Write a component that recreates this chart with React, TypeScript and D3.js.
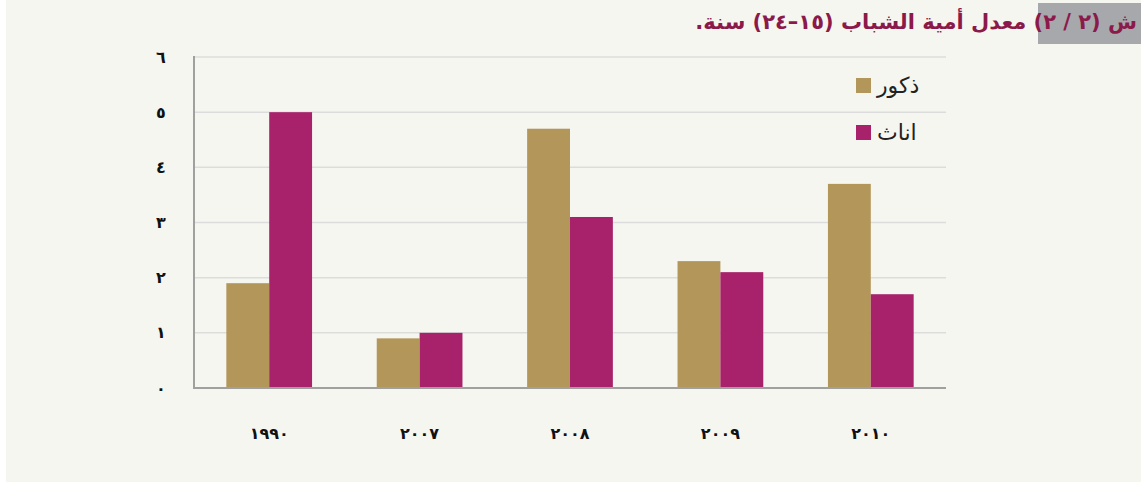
import React from "react";
import * as d3 from "d3";

const years = ["١٩٩٠", "٢٠٠٧", "٢٠٠٨", "٢٠٠٩", "٢٠١٠"];
const males = [1.9, 0.9, 4.7, 2.3, 3.7];
const females = [5.0, 1.0, 3.1, 2.1, 1.7];
const yTicks = [0, 1, 2, 3, 4, 5, 6];
const yTickLabels = ["٠", "١", "٢", "٣", "٤", "٥", "٦"];
const seriesNames = ["ذكور", "اناث"];
const seriesColors = ["#b3975a", "#a8226b"];
const title = "ش (٢ / ٢) معدل أمية الشباب (١٥–٢٤) سنة.";

export default function App() {
  const W = 1141, H = 482;
  const left = 194, right = 946, top = 57, bottom = 388;
  const x = d3.scaleBand<string>().domain(years).range([left, right]).paddingInner(0.43).paddingOuter(0.215);
  const x1 = d3.scaleBand<number>().domain([0, 1]).range([0, x.bandwidth()]);
  const y = d3.scaleLinear().domain([0, 6]).range([bottom, top]);
  const series = [males, females];
  const font = "'DejaVu Sans', sans-serif";
  return (
    <svg width={W} height={H} style={{ position: "absolute", left: 0, top: 0 }} fontFamily={font}>
      <rect x={6} y={0} width={W - 6} height={H} fill="#f6f6f1" />
      <rect x={1038} y={3} width={W - 1038} height={41} fill="#a7a8ab" />
      <text x={1137} y={29} textAnchor="start" direction="rtl" style={{ direction: "rtl", unicodeBidi: "embed" }} fontSize={21} fontWeight="bold" fill="#8b1a4b">{title}</text>
      {yTicks.filter(t => t > 0).map(t => (
        <line key={t} x1={left} x2={right} y1={y(t)} y2={y(t)} stroke="#dcdcdc" strokeWidth={1.5} />
      ))}
      {yTicks.map((t, i) => (
        <text key={t} x={161} y={y(t)} dy="0.35em" textAnchor="middle" fontSize={16} fontWeight="bold" fill="#111">{yTickLabels[i]}</text>
      ))}
      {years.map((yr, i) => (
        <g key={yr}>
          {series.map((s, j) => (
            <rect key={j} x={(x(yr) as number) + (x1(j) as number)} y={y(s[i])} width={x1.bandwidth()} height={y(0) - y(s[i])} fill={seriesColors[j]} />
          ))}
          <text x={(x(yr) as number) + x.bandwidth() / 2} y={439} textAnchor="middle" fontSize={16} fontWeight="bold" fill="#111">{yr}</text>
        </g>
      ))}
      <line x1={left} x2={left} y1={top - 1} y2={bottom + 1} stroke="#a0a0a0" strokeWidth={2} />
      <line x1={left - 1} x2={right} y1={bottom} y2={bottom} stroke="#a0a0a0" strokeWidth={2} />
      {seriesNames.map((n, j) => (
        <g key={n}>
          <rect x={856} y={78 + j * 47} width={15} height={15} fill={seriesColors[j]} />
          <text x={877} y={93 + j * 47} fontSize={22} fill="#222" textAnchor="start">{n}</text>
        </g>
      ))}
    </svg>
  );
}
